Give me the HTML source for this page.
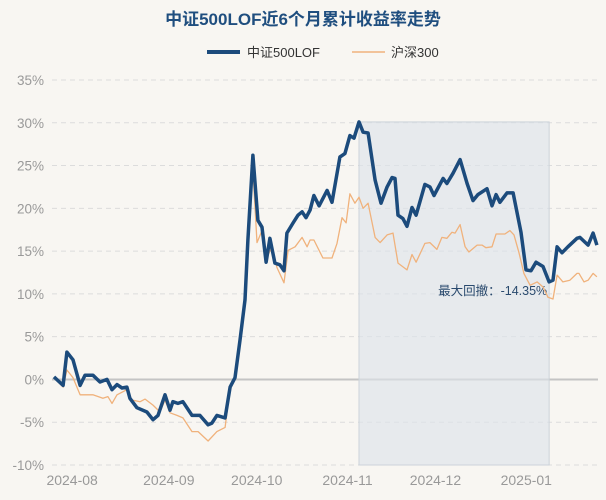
<!DOCTYPE html>
<html><head><meta charset="utf-8"><style>
body{margin:0;background:#f8f6f2;}
svg{display:block;font-family:"Liberation Sans","Noto Sans CJK SC",sans-serif;}
</style></head><body>
<svg id="chart" width="606" height="500" viewBox="0 0 606 500">
<rect x="0" y="0" width="606" height="500" fill="#f8f6f2"/>
<text x="303" y="25" text-anchor="middle" font-size="17" font-weight="bold" fill="#1f4e7f">中证500LOF近6个月累计收益率走势</text>
<g>
<g><line x1="207" y1="52" x2="240" y2="52" stroke="#1c4b7c" stroke-width="4"/><text x="247" y="57" font-size="13" fill="#333">中证500LOF</text></g>
<g><line x1="352" y1="52" x2="385" y2="52" stroke="#f0b27c" stroke-width="1.5"/><text x="391" y="57" font-size="13" fill="#333">沪深300</text></g>
</g>
<g id="grid"></g>
<g id="yaxis"></g>
<g id="xaxis"></g>
<g id="dd"></g>
<g id="series"></g>
</svg>
<script>
const yTicks=[35,30,25,20,15,10,5,0,-5,-10];
const xTickLabels=["2024-08","2024-09","2024-10","2024-11","2024-12","2025-01"];
const xTickDays=[-2,31,61,92,122,153];
const fundDays=[-8.2,-5.1,-3.8,-1.7,0.7,2.4,5.1,7.5,9.9,11.6,13.3,15,16.7,17.7,20.1,23.5,25.6,27.3,29.7,31.4,32.4,34.1,35.8,38.9,41.6,44.4,45.7,47.4,50.2,51.9,53.6,55.3,57,58,59.7,61.4,62.8,64.2,65.5,67.2,68.9,70.3,71.3,73.4,75.1,76.5,77.8,79.2,80.5,82.3,85,86.7,89.4,91.1,92.8,94.2,95.9,97.3,99,101.4,103.4,105.5,107.2,108.2,109.2,110.9,112.3,114,115.4,118.4,120.1,121.5,124.6,125.9,128,130.4,132.8,134.8,136.5,139.6,141.3,142.7,144,146.4,148.5,151.2,152.9,154.6,156.3,158.7,160.8,162.1,163.5,165.2,167.2,170.3,171.3,174.1,175.8,177.1];
const fundValues=[0.3,-0.7,3.2,2.3,-0.7,0.5,0.5,-0.3,0,-1.2,-0.6,-1,-0.9,-2.2,-3.3,-3.8,-4.7,-4.2,-1.8,-3.6,-2.6,-2.8,-2.6,-4.2,-4.2,-5.3,-5.1,-4.2,-4.5,-0.9,0.2,4.6,9.3,16.3,26.2,18.6,17.8,13.7,16.5,13.6,13.4,12.7,17.1,18.3,19.2,19.6,18.9,19.8,21.5,20.3,22.1,20.7,26,26.4,28.5,28.2,30.1,28.9,28.8,23.3,20.6,22.5,23.6,23.5,19.2,18.8,17.9,20.1,19.2,22.8,22.5,21.5,23.5,22.9,24.1,25.7,22.9,20.9,21.6,22.3,20.3,21.6,20.7,21.8,21.8,17.2,12.8,12.7,13.7,13.2,11.4,11.6,15.5,14.8,15.5,16.5,16.6,15.7,17.1,15.7];
const hsDays=[-8.2,-5.1,-3.8,-1.7,0.7,5.1,8.5,10.2,11.6,13.3,16.7,18.4,21.2,22.9,25.6,28,29.7,31.4,33.8,35.8,38.9,41,44.4,47.4,50.2,51.9,53.6,55.3,57,58,59.7,61.1,62.8,64.5,66.2,67.9,70.3,71.7,74.1,76.5,78.2,79.2,80.5,83.6,86.7,88.4,90.1,91.5,92.8,94.5,95.9,97.3,99,101.4,103.1,105.5,107.5,109.2,112.3,114,115.4,118.4,120.1,122.5,124.2,125.9,127.6,128.7,130.4,132.1,133.4,136.2,137.9,139.2,141.3,142.7,145.7,147.4,148.8,150.5,152.2,154.3,156.7,158.7,160.4,162.1,163.5,165.5,167.9,170.3,171,172.7,174.1,175.8,177.1];
const hsValues=[0.2,-0.9,1.1,0.2,-1.8,-1.8,-2.2,-2,-2.8,-1.8,-1.2,-2.4,-2.6,-2.3,-3,-3.8,-2.4,-3.9,-4.2,-4.5,-6.1,-6.1,-7.2,-6.1,-5.6,-0.9,0.2,4.6,9.3,16.3,24.5,16,17.4,14.3,15.5,13.1,11.3,15.1,15.5,16.6,15.5,16.3,16.3,14.2,14.2,15.9,18.9,18.3,21.7,20.6,21.3,20,20.6,16.6,16,16.9,17.1,13.6,12.8,14.6,13.7,15.9,16,15.2,16.6,16.5,17.2,17.1,18.1,15.5,14.9,15.7,15.7,15.4,15.5,17,17,17.4,16.9,14.8,12.4,11,11.4,10.8,9.6,9.4,12.2,11.4,11.6,12.4,12.4,11.4,11.6,12.4,12];
const drawdownStartDay=95.9, drawdownEndDay=160.8, drawdownPeak=30.1, drawdownLabel="最大回撤：-14.35%";

const NS="http://www.w3.org/2000/svg";
const X0=52,X1=598,Y0=80,Y1=465;
const yScale=v=>Y0+(35-v)/45*(Y1-Y0);
const xScale=d=>78+d*2.93;
function mk(tag,attrs,parent){const e=document.createElementNS(NS,tag);for(const k in attrs)e.setAttribute(k,attrs[k]);parent.appendChild(e);return e;}
const grid=document.getElementById('grid'),ya=document.getElementById('yaxis'),xa=document.getElementById('xaxis');
yTicks.forEach(t=>{
  const y=yScale(t);
  const l=mk('line',{x1:X0,x2:X1,y1:y,y2:y,stroke:t===0?'#c4c4c4':'#dcdcdc','stroke-width':t===0?2:1,'stroke-dasharray':t===0?'':'5,4'},grid);
  
  
  const tx=mk('text',{x:44,y:y+5,'text-anchor':'end','font-size':13.5,fill:'#999'},ya);
  tx.textContent=t+'%';
  
  
});
xTickLabels.forEach((lab,i)=>{
  const tx=mk('text',{x:xScale(xTickDays[i]),y:485,'text-anchor':'middle','font-size':14,fill:'#999'},xa);
  tx.textContent=lab;
  
  
});
const dd=document.getElementById('dd');
const r=mk('rect',{x:xScale(drawdownStartDay),y:yScale(drawdownPeak),width:xScale(drawdownEndDay)-xScale(drawdownStartDay),height:Y1-yScale(drawdownPeak),fill:'#dde3e9','fill-opacity':0.65,stroke:'#ccd3da','stroke-width':1},dd);


const s=document.getElementById('series');
function path(days,vals){return days.map((d,i)=>(i?'L':'M')+xScale(d).toFixed(1)+','+yScale(vals[i]).toFixed(1)).join('');}
const p2=mk('path',{d:path(hsDays,hsValues),fill:'none',stroke:'#f0b27c','stroke-width':1.3,'stroke-linejoin':'round'},s);


const p1=mk('path',{d:path(fundDays,fundValues),fill:'none',stroke:'#1c4b7c','stroke-width':3.5,'stroke-linejoin':'round'},s);


const lt=mk('text',{x:xScale(drawdownEndDay)-2,y:295,'text-anchor':'end','font-size':12.5,fill:'#2a4a6e'},dd);
lt.textContent=drawdownLabel;


</script>
</body></html>
